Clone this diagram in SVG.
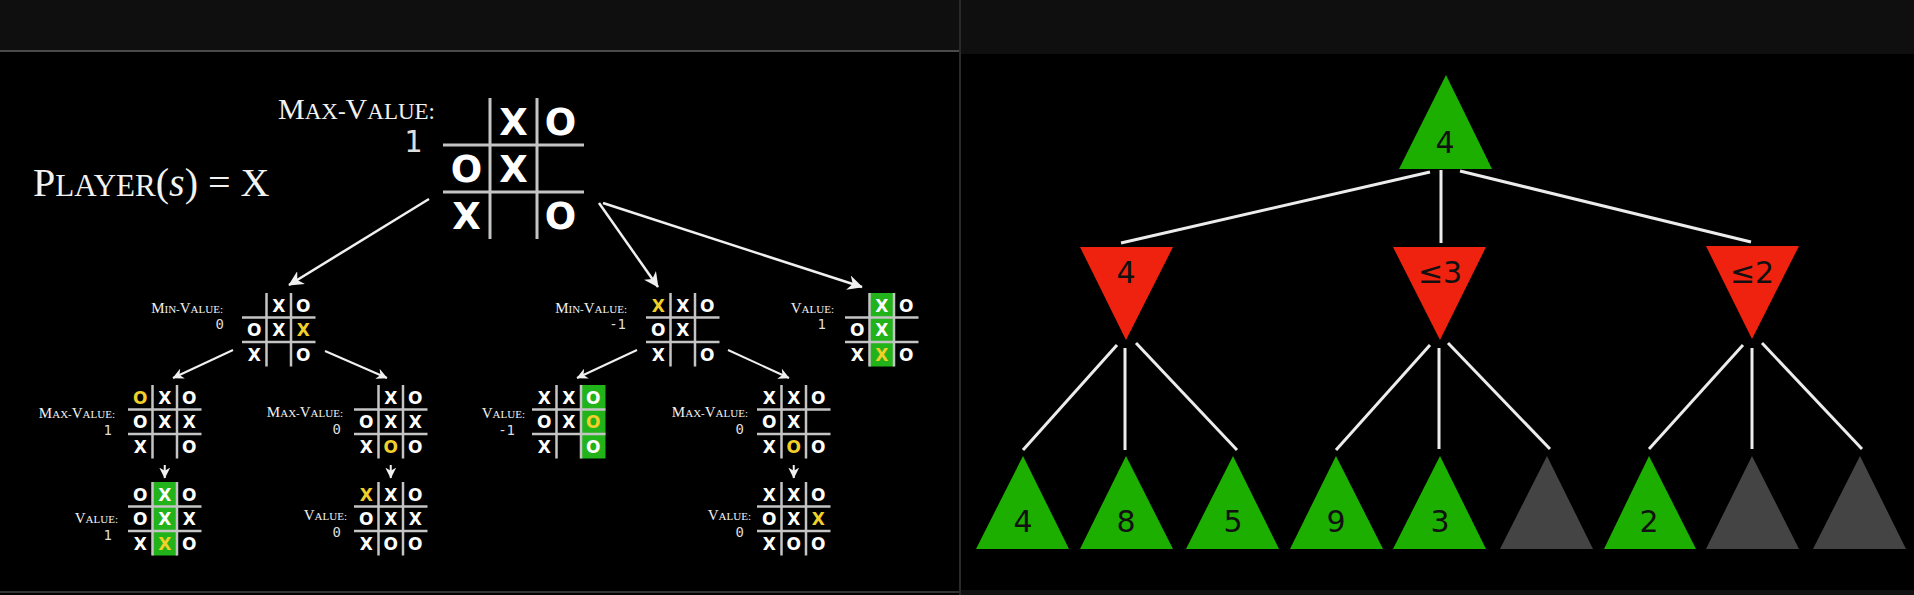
<svg xmlns="http://www.w3.org/2000/svg" xmlns:xlink="http://www.w3.org/1999/xlink" width="1914" height="595" viewBox="0 0 1914 595">
<style>
.mk{font-family:"DejaVu Sans",sans-serif;font-weight:bold;fill:#ffffff;text-anchor:middle}
.big{font-size:37px}
.sm{font-size:17px}
.y{fill:#f2d02a}
.lab{font-family:"Liberation Serif",serif;fill:#f2f2f2;text-anchor:end}
.num{font-family:"DejaVu Sans Mono",monospace;fill:#dddddd;text-anchor:end}
.grid line{stroke:#c4c4c4}
.hl{fill:#22b21a}
.arr{stroke:#f0f0f0;fill:none}
.edge{stroke:#ececec;stroke-width:3;fill:none}
.tmax{fill:#1daf00}
.tmin{fill:#ee220f}
.tgray{fill:#444444}
.tl{font-family:"DejaVu Sans",sans-serif;font-size:30px;fill:#111111;text-anchor:middle}
</style>
<defs>
<marker id="ah" viewBox="0 0 10 10" refX="9.5" refY="5" markerUnits="userSpaceOnUse" markerWidth="15" markerHeight="15" orient="auto">
<path d="M0,0 L10,5 L0,10 L3,5 z" fill="#f0f0f0"/>
</marker>
<marker id="ahs" viewBox="0 0 10 10" refX="9.5" refY="5" markerUnits="userSpaceOnUse" markerWidth="11" markerHeight="11" orient="auto">
<path d="M0,0 L10,5 L0,10 L3,5 z" fill="#f0f0f0"/>
</marker>
<g id="gridS" class="grid" stroke-width="2.5">
<line x1="24.5" y1="0" x2="24.5" y2="73.5"/>
<line x1="49" y1="0" x2="49" y2="73.5"/>
<line x1="0" y1="24.5" x2="73.5" y2="24.5"/>
<line x1="0" y1="49" x2="73.5" y2="49"/>
</g>
<g id="gridL" class="grid" stroke-width="3">
<line x1="47" y1="0" x2="47" y2="141"/>
<line x1="94" y1="0" x2="94" y2="141"/>
<line x1="0" y1="47" x2="141" y2="47"/>
<line x1="0" y1="94" x2="141" y2="94"/>
</g>
</defs>

<rect x="0" y="0" width="1914" height="595" fill="#000000"/>
<rect x="0" y="0" width="959" height="50" fill="#0f0f0f"/>
<rect x="0" y="50" width="959" height="2" fill="#4a4a4a"/>
<rect x="0" y="591" width="959" height="2" fill="#333333"/>
<rect x="959" y="0" width="2" height="595" fill="#2a2a2a"/>
<rect x="961" y="0" width="953" height="54" fill="#0f0f0f"/>
<rect x="961" y="590" width="953" height="5" fill="#111111"/>

<text id="player" x="33" y="196" font-family="Liberation Serif, serif" fill="#f2f2f2" font-size="40">P<tspan font-size="31">LAYER</tspan>(<tspan font-style="italic">s</tspan>) = X</text>

<g id="connectors">
<line class="arr" stroke-width="2.5" x1="429" y1="199" x2="289" y2="285" marker-end="url(#ah)"/>
<line class="arr" stroke-width="2.5" x1="599" y1="203" x2="658" y2="287" marker-end="url(#ah)"/>
<line class="arr" stroke-width="2.5" x1="603" y1="203" x2="862" y2="287" marker-end="url(#ah)"/>
<line class="arr" stroke-width="2" x1="233" y1="350" x2="173" y2="378" marker-end="url(#ahs)"/>
<line class="arr" stroke-width="2" x1="325" y1="351" x2="387" y2="378" marker-end="url(#ahs)"/>
<line class="arr" stroke-width="2" x1="637" y1="350" x2="577" y2="378" marker-end="url(#ahs)"/>
<line class="arr" stroke-width="2" x1="728" y1="350" x2="789" y2="378" marker-end="url(#ahs)"/>
<line class="arr" stroke-width="2" x1="164.75" y1="465" x2="164.75" y2="478" marker-end="url(#ahs)"/>
<line class="arr" stroke-width="2" x1="390.75" y1="465" x2="390.75" y2="478" marker-end="url(#ahs)"/>
<line class="arr" stroke-width="2" x1="793.75" y1="465" x2="793.75" y2="478" marker-end="url(#ahs)"/>
<line class="edge" x1="1430" y1="172" x2="1121" y2="243"/>
<line class="edge" x1="1441" y1="170" x2="1441" y2="243"/>
<line class="edge" x1="1460" y1="171" x2="1751" y2="242"/>
<line class="edge" x1="1117" y1="345" x2="1023" y2="450"/>
<line class="edge" x1="1125" y1="348" x2="1125" y2="450"/>
<line class="edge" x1="1136" y1="343" x2="1237" y2="450"/>
<line class="edge" x1="1430" y1="345" x2="1336" y2="450"/>
<line class="edge" x1="1439" y1="348" x2="1439" y2="449"/>
<line class="edge" x1="1448" y1="343" x2="1550" y2="449"/>
<line class="edge" x1="1743" y1="345" x2="1649" y2="449"/>
<line class="edge" x1="1752" y1="348" x2="1752" y2="449"/>
<line class="edge" x1="1762" y1="343" x2="1862" y2="449"/>
</g>

<g id="root-board">
<use xlink:href="#gridL" x="443" y="98"/>
<text class="mk big" x="513.5" y="135">X</text>
<text class="mk big" x="560.5" y="135">O</text>
<text class="mk big" x="466.5" y="182">O</text>
<text class="mk big" x="513.5" y="182">X</text>
<text class="mk big" x="466.5" y="229">X</text>
<text class="mk big" x="560.5" y="229">O</text>
<text class="lab" x="435" y="119" font-size="30">M<tspan font-size="23">AX-</tspan>V<tspan font-size="23">ALUE:</tspan></text>
<text class="num" x="422" y="152" font-size="30">1</text>
</g>

<g id="board-a">
<use xlink:href="#gridS" x="242" y="293"/>
<text class="mk sm" x="278.75" y="311.5">X</text>
<text class="mk sm" x="303.25" y="311.5">O</text>
<text class="mk sm" x="254.25" y="336">O</text>
<text class="mk sm" x="278.75" y="336">X</text>
<text class="mk sm y" x="303.25" y="336">X</text>
<text class="mk sm" x="254.25" y="360.5">X</text>
<text class="mk sm" x="303.25" y="360.5">O</text>
<text class="lab" x="223" y="313" font-size="15">M<tspan font-size="11">IN-</tspan>V<tspan font-size="11">ALUE:</tspan></text>
<text class="num" x="224" y="329" font-size="14">0</text>
</g>

<g id="board-b">
<use xlink:href="#gridS" x="128" y="385"/>
<text class="mk sm y" x="140.25" y="403.5">O</text>
<text class="mk sm" x="164.75" y="403.5">X</text>
<text class="mk sm" x="189.25" y="403.5">O</text>
<text class="mk sm" x="140.25" y="428">O</text>
<text class="mk sm" x="164.75" y="428">X</text>
<text class="mk sm" x="189.25" y="428">X</text>
<text class="mk sm" x="140.25" y="452.5">X</text>
<text class="mk sm" x="189.25" y="452.5">O</text>
<text class="lab" x="115" y="418" font-size="15">M<tspan font-size="11">AX-</tspan>V<tspan font-size="11">ALUE:</tspan></text>
<text class="num" x="112" y="435" font-size="14">1</text>
</g>

<g id="board-c">
<rect class="hl" x="152.5" y="482" width="24.5" height="73.5"/>
<use xlink:href="#gridS" x="128" y="482"/>
<text class="mk sm" x="140.25" y="500.5">O</text>
<text class="mk sm" x="164.75" y="500.5">X</text>
<text class="mk sm" x="189.25" y="500.5">O</text>
<text class="mk sm" x="140.25" y="525">O</text>
<text class="mk sm" x="164.75" y="525">X</text>
<text class="mk sm" x="189.25" y="525">X</text>
<text class="mk sm" x="140.25" y="549.5">X</text>
<text class="mk sm y" x="164.75" y="549.5">X</text>
<text class="mk sm" x="189.25" y="549.5">O</text>
<text class="lab" x="118" y="523" font-size="15">V<tspan font-size="11">ALUE:</tspan></text>
<text class="num" x="112" y="540" font-size="14">1</text>
</g>

<g id="board-d">
<use xlink:href="#gridS" x="354" y="385"/>
<text class="mk sm" x="390.75" y="403.5">X</text>
<text class="mk sm" x="415.25" y="403.5">O</text>
<text class="mk sm" x="366.25" y="428">O</text>
<text class="mk sm" x="390.75" y="428">X</text>
<text class="mk sm" x="415.25" y="428">X</text>
<text class="mk sm" x="366.25" y="452.5">X</text>
<text class="mk sm y" x="390.75" y="452.5">O</text>
<text class="mk sm" x="415.25" y="452.5">O</text>
<text class="lab" x="343" y="417" font-size="15">M<tspan font-size="11">AX-</tspan>V<tspan font-size="11">ALUE:</tspan></text>
<text class="num" x="341" y="434" font-size="14">0</text>
</g>

<g id="board-e">
<use xlink:href="#gridS" x="354" y="482"/>
<text class="mk sm y" x="366.25" y="500.5">X</text>
<text class="mk sm" x="390.75" y="500.5">X</text>
<text class="mk sm" x="415.25" y="500.5">O</text>
<text class="mk sm" x="366.25" y="525">O</text>
<text class="mk sm" x="390.75" y="525">X</text>
<text class="mk sm" x="415.25" y="525">X</text>
<text class="mk sm" x="366.25" y="549.5">X</text>
<text class="mk sm" x="390.75" y="549.5">O</text>
<text class="mk sm" x="415.25" y="549.5">O</text>
<text class="lab" x="347" y="520" font-size="15">V<tspan font-size="11">ALUE:</tspan></text>
<text class="num" x="341" y="537" font-size="14">0</text>
</g>

<g id="board-f">
<use xlink:href="#gridS" x="646" y="293"/>
<text class="mk sm y" x="658.25" y="311.5">X</text>
<text class="mk sm" x="682.75" y="311.5">X</text>
<text class="mk sm" x="707.25" y="311.5">O</text>
<text class="mk sm" x="658.25" y="336">O</text>
<text class="mk sm" x="682.75" y="336">X</text>
<text class="mk sm" x="658.25" y="360.5">X</text>
<text class="mk sm" x="707.25" y="360.5">O</text>
<text class="lab" x="627" y="313" font-size="15">M<tspan font-size="11">IN-</tspan>V<tspan font-size="11">ALUE:</tspan></text>
<text class="num" x="626" y="329" font-size="14">-1</text>
</g>

<g id="board-g">
<rect class="hl" x="869.5" y="293" width="24.5" height="73.5"/>
<use xlink:href="#gridS" x="845" y="293"/>
<text class="mk sm" x="881.75" y="311.5">X</text>
<text class="mk sm" x="906.25" y="311.5">O</text>
<text class="mk sm" x="857.25" y="336">O</text>
<text class="mk sm" x="881.75" y="336">X</text>
<text class="mk sm" x="857.25" y="360.5">X</text>
<text class="mk sm y" x="881.75" y="360.5">X</text>
<text class="mk sm" x="906.25" y="360.5">O</text>
<text class="lab" x="834" y="313" font-size="15">V<tspan font-size="11">ALUE:</tspan></text>
<text class="num" x="826" y="329" font-size="14">1</text>
</g>

<g id="board-h">
<rect class="hl" x="581" y="385" width="24.5" height="73.5"/>
<use xlink:href="#gridS" x="532" y="385"/>
<text class="mk sm" x="544.25" y="403.5">X</text>
<text class="mk sm" x="568.75" y="403.5">X</text>
<text class="mk sm" x="593.25" y="403.5">O</text>
<text class="mk sm" x="544.25" y="428">O</text>
<text class="mk sm" x="568.75" y="428">X</text>
<text class="mk sm y" x="593.25" y="428">O</text>
<text class="mk sm" x="544.25" y="452.5">X</text>
<text class="mk sm" x="593.25" y="452.5">O</text>
<text class="lab" x="525" y="418" font-size="15">V<tspan font-size="11">ALUE:</tspan></text>
<text class="num" x="515" y="435" font-size="14">-1</text>
</g>

<g id="board-i">
<use xlink:href="#gridS" x="757" y="385"/>
<text class="mk sm" x="769.25" y="403.5">X</text>
<text class="mk sm" x="793.75" y="403.5">X</text>
<text class="mk sm" x="818.25" y="403.5">O</text>
<text class="mk sm" x="769.25" y="428">O</text>
<text class="mk sm" x="793.75" y="428">X</text>
<text class="mk sm" x="769.25" y="452.5">X</text>
<text class="mk sm y" x="793.75" y="452.5">O</text>
<text class="mk sm" x="818.25" y="452.5">O</text>
<text class="lab" x="748" y="417" font-size="15">M<tspan font-size="11">AX-</tspan>V<tspan font-size="11">ALUE:</tspan></text>
<text class="num" x="744" y="434" font-size="14">0</text>
</g>

<g id="board-j">
<use xlink:href="#gridS" x="757" y="482"/>
<text class="mk sm" x="769.25" y="500.5">X</text>
<text class="mk sm" x="793.75" y="500.5">X</text>
<text class="mk sm" x="818.25" y="500.5">O</text>
<text class="mk sm" x="769.25" y="525">O</text>
<text class="mk sm" x="793.75" y="525">X</text>
<text class="mk sm y" x="818.25" y="525">X</text>
<text class="mk sm" x="769.25" y="549.5">X</text>
<text class="mk sm" x="793.75" y="549.5">O</text>
<text class="mk sm" x="818.25" y="549.5">O</text>
<text class="lab" x="751" y="520" font-size="15">V<tspan font-size="11">ALUE:</tspan></text>
<text class="num" x="744" y="537" font-size="14">0</text>
</g>

<g id="t-root"><polygon class="tmax" points="1446,75 1492,169 1399,169"/><text class="tl" x="1445" y="153">4</text></g>
<g id="t-min1"><polygon class="tmin" points="1080,247 1173,247 1126,340"/><text class="tl" x="1126" y="283">4</text></g>
<g id="t-min2"><polygon class="tmin" points="1393,247 1486,247 1440,340"/><text class="tl" x="1440" y="283">≤3</text></g>
<g id="t-min3"><polygon class="tmin" points="1706,246 1799,246 1752,339"/><text class="tl" x="1752" y="283">≤2</text></g>
<g id="t-leaf1"><polygon class="tmax" points="1023,456 1069,549 976,549"/><text class="tl" x="1023" y="532">4</text></g>
<g id="t-leaf2"><polygon class="tmax" points="1126,456 1173,549 1080,549"/><text class="tl" x="1126" y="532">8</text></g>
<g id="t-leaf3"><polygon class="tmax" points="1233,456 1279,549 1186,549"/><text class="tl" x="1233" y="532">5</text></g>
<g id="t-leaf4"><polygon class="tmax" points="1336,456 1383,549 1290,549"/><text class="tl" x="1336" y="532">9</text></g>
<g id="t-leaf5"><polygon class="tmax" points="1440,456 1486,549 1393,549"/><text class="tl" x="1440" y="532">3</text></g>
<g id="t-leaf6"><polygon class="tgray" points="1547,456 1593,549 1500,549"/></g>
<g id="t-leaf7"><polygon class="tmax" points="1649,456 1696,549 1604,549"/><text class="tl" x="1649" y="532">2</text></g>
<g id="t-leaf8"><polygon class="tgray" points="1752,456 1799,549 1706,549"/></g>
<g id="t-leaf9"><polygon class="tgray" points="1860,456 1906,549 1813,549"/></g>
</svg>
